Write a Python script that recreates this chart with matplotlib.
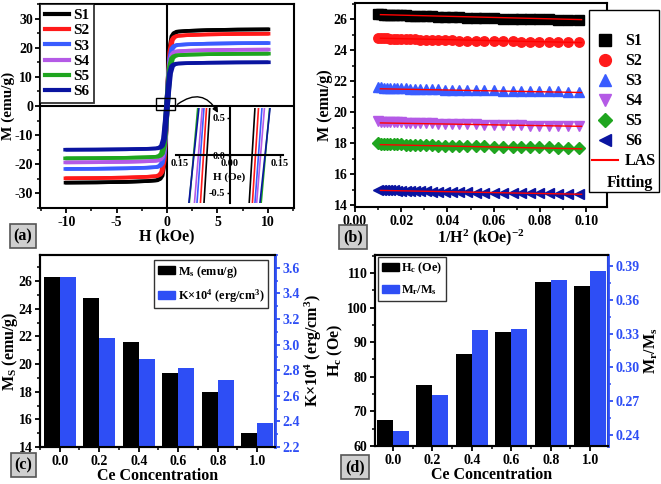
import numpy as np
import matplotlib.pyplot as plt
from matplotlib.ticker import AutoMinorLocator, FormatStrFormatter
from matplotlib.patches import Rectangle, FancyArrowPatch, Patch
from matplotlib.lines import Line2D

plt.rcParams['font.family'] = 'Liberation Serif'
plt.rcParams['font.weight'] = 'bold'
plt.rcParams['axes.labelweight'] = 'bold'
plt.rcParams['axes.unicode_minus'] = False
plt.rcParams['mathtext.fontset'] = 'custom'
plt.rcParams['mathtext.rm'] = 'Liberation Serif:bold'
plt.rcParams['mathtext.it'] = 'Liberation Serif:bold:italic'
plt.rcParams['mathtext.bf'] = 'Liberation Serif:bold'

# ---- data ----
samples = ['S1', 'S2', 'S3', 'S4', 'S5', 'S6']
loop_colors = ['#000000', '#ff1a1a', '#3a5cff', '#b45ae6', '#1fa51f', '#0a14a0']
bar_blue = '#2e4ef5'

ce = [0.0, 0.2, 0.4, 0.6, 0.8, 1.0]
ms = [26.3, 24.8, 21.6, 19.35, 17.95, 15.0]          # emu/g
k_aniso = [3.53, 3.05, 2.89, 2.815, 2.72, 2.385]     # x10^4 erg/cm3
hc = [67.6, 77.7, 86.7, 93.0, 107.5, 106.3]          # Oe
mr_ms = [0.243, 0.275, 0.333, 0.334, 0.378, 0.386]

# loop branch shape: M/Ms against distance from the coercive field (kOe)
u_branch = [0, 0.05, 0.1, 0.2, 0.3, 0.5, 0.7, 1.0, 2.0, 4.0, 7.0, 10.0]
m_branch = [0, 0.14, 0.28, 0.52, 0.75, 0.91, 0.95, 0.97, 0.98, 0.99, 0.997, 1.0]

# law of approach to saturation, M vs 1/H^2
x_las = [0.0100, 0.0112, 0.0125, 0.0138, 0.0152, 0.0167, 0.0183, 0.0200,
         0.0219, 0.0239, 0.0260, 0.0283, 0.0307, 0.0333, 0.0360, 0.0389,
         0.0420, 0.0452, 0.0486, 0.0522, 0.0560, 0.0600, 0.0641, 0.0683,
         0.0719, 0.0758, 0.0798, 0.0839, 0.0877, 0.0921, 0.0971]
m_s1 = [26.32, 26.31, 26.30, 26.30, 26.29, 26.28, 26.27, 26.26, 26.25, 26.23,
        26.22, 26.21, 26.19, 26.18, 26.16, 26.15, 26.13, 26.12, 26.10, 26.09,
        26.07, 26.06, 26.05, 26.04, 26.02, 26.01, 26.00, 25.99, 25.98, 25.97, 25.96]
m_s2 = [24.80, 24.79, 24.78, 24.77, 24.76, 24.75, 24.74, 24.73, 24.72, 24.71,
        24.70, 24.69, 24.68, 24.67, 24.66, 24.65, 24.64, 24.63, 24.62, 24.61,
        24.60, 24.59, 24.58, 24.57, 24.56, 24.56, 24.55, 24.54, 24.53, 24.53, 24.52]
m_s3 = [21.62, 21.61, 21.60, 21.59, 21.58, 21.57, 21.56, 21.55, 21.54, 21.53,
        21.52, 21.51, 21.50, 21.49, 21.48, 21.47, 21.46, 21.45, 21.44, 21.43,
        21.42, 21.41, 21.40, 21.39, 21.38, 21.37, 21.36, 21.35, 21.35, 21.34, 21.33]
m_s4 = [19.42, 19.41, 19.40, 19.39, 19.38, 19.37, 19.36, 19.35, 19.34, 19.33,
        19.32, 19.31, 19.30, 19.29, 19.28, 19.27, 19.26, 19.24, 19.23, 19.22,
        19.21, 19.19, 19.18, 19.17, 19.16, 19.15, 19.14, 19.13, 19.12, 19.11, 19.10]
m_s5 = [18.00, 17.99, 17.98, 17.97, 17.96, 17.95, 17.94, 17.93, 17.92, 17.91,
        17.90, 17.89, 17.88, 17.87, 17.86, 17.85, 17.84, 17.83, 17.82, 17.81,
        17.80, 17.79, 17.78, 17.77, 17.76, 17.76, 17.75, 17.74, 17.73, 17.73, 17.72]
m_s6 = [15.02, 15.01, 15.00, 14.99, 14.98, 14.97, 14.96, 14.95, 14.94, 14.93,
        14.92, 14.91, 14.90, 14.89, 14.88, 14.87, 14.86, 14.85, 14.84, 14.83,
        14.82, 14.81, 14.80, 14.80, 14.79, 14.79, 14.78, 14.78, 14.77, 14.77, 14.76]
las_series = [m_s1, m_s2, m_s3, m_s4, m_s5, m_s6]
las_markers = ['s', 'o', '^', 'v', 'D', '<']
fit_x = [0.011, 0.098]
fit_y = [(26.30, 25.98), (24.78, 24.50), (21.52, 21.28),
         (19.32, 19.10), (17.92, 17.65), (14.97, 14.72)]

W, H = 661, 484


def box(l, t, r, b):
    # pixel box (from top-left) -> figure fraction rect
    return [l / W, 1 - b / H, (r - l) / W, (b - t) / H]


def style_axis(ax):
    for sp in ax.spines.values():
        sp.set_linewidth(1.5)
    ax.tick_params(direction='out', length=3.5, width=1.3, labelsize=10, pad=2)
    ax.tick_params(which='minor', direction='out', length=2, width=1.1)
    ax.xaxis.set_minor_locator(AutoMinorLocator(2))
    ax.yaxis.set_minor_locator(AutoMinorLocator(2))


fig = plt.figure(figsize=(6.61, 4.84), dpi=100)

# ---------------- (a) hysteresis loops ----------------
ax_a = fig.add_axes(box(40, 4, 294, 208))
u = np.array(u_branch)
m = np.array(m_branch)
u_full = np.concatenate([-u[::-1], u[1:]])
m_full = np.concatenate([-m[::-1], m[1:]])
ax_a.axhline(0, color='k', lw=1.5, zorder=1)
ax_a.axvline(0, color='k', lw=1.5, zorder=1)
for name, c, s, h in zip(samples, loop_colors, ms, hc):
    hk = h / 1000.0
    ax_a.plot(u_full + hk, s * m_full, color=c, lw=2.6, label=name, zorder=2)
    ax_a.plot(u_full - hk, s * m_full, color=c, lw=2.6, zorder=2)
ax_a.set_xlim(-12.6, 12.6)
ax_a.set_ylim(-35, 35)
ax_a.set_xticks([-10, -5, 0, 5, 10])
ax_a.set_yticks([-30, -20, -10, 0, 10, 20, 30])
style_axis(ax_a)
ax_a.tick_params(axis='y', pad=1.5)
ax_a.set_xlabel('H (kOe)', fontsize=11.5, labelpad=0)
ax_a.set_ylabel('M (emu/g)', fontsize=11, labelpad=-0.5)
leg = ax_a.legend(loc='upper left', bbox_to_anchor=(0, 1), borderaxespad=0,
                  fancybox=False, edgecolor='k', fontsize=11, handlelength=1.6,
                  handletextpad=0.25, labelspacing=0.1, borderpad=0.3)
leg.get_frame().set_linewidth(1.3)
for ln in leg.get_lines():
    ln.set_linewidth(3)
ax_a.add_patch(Rectangle((-1.05, -1.5), 1.8, 4.1, fill=False, ec='k', lw=1, zorder=4))
ax_a.add_patch(FancyArrowPatch((0.82, 0.0), (5.2, -3.2), connectionstyle='arc3,rad=-0.6',
                               arrowstyle='-|>', mutation_scale=8, lw=1, color='k', zorder=4))

# inset: zoom around origin
ax_in = fig.add_axes(box(176, 108, 283, 203))
ax_in.patch.set_alpha(0)
for c, s, h in zip(loop_colors, ms, hc):
    hk = h / 1000.0
    ax_in.plot(u_full + hk, s * m_full, color=c, lw=1.2)
    ax_in.plot(u_full - hk, s * m_full, color=c, lw=1.2)
ax_in.set_xlim(-0.16, 0.16)
ax_in.set_ylim(-0.64, 0.627)
ax_in.spines['left'].set_position('zero')
ax_in.spines['bottom'].set_position('zero')
ax_in.spines['top'].set_visible(False)
ax_in.spines['right'].set_visible(False)
for sp in ('left', 'bottom'):
    ax_in.spines[sp].set_linewidth(1.5)
ax_in.set_xticks([-0.15, 0, 0.15])
ax_in.set_xticklabels(['0.15', '0.00', '0.15'])
ax_in.set_yticks([-0.5, 0, 0.5])
ax_in.set_yticklabels(['-0.5', '0.0', '0.5'])
ax_in.tick_params(labelsize=7.5, length=2, width=1, pad=1)
ax_in.text(0.5, 0.24, 'H (Oe)', transform=ax_in.transAxes, ha='center', fontsize=8)

# ---------------- (b) law of approach ----------------
ax_b = fig.add_axes(box(355, 3, 607, 207))
handles = []
for name, c, mk, y in zip(samples, loop_colors, las_markers, las_series):
    msz = 6 if mk == 'D' else 6.8
    hdl, = ax_b.plot(x_las, y, ls='none', marker=mk, ms=msz, color=c, mec=c, label=name, zorder=2)
    handles.append(hdl)
for fy in fit_y:
    ax_b.plot(fit_x, fy, color='#ff0000', lw=1, zorder=3)
ax_b.set_xlim(0, 0.109)
ax_b.set_ylim(13.9, 27.05)
ax_b.set_xticks([0.0, 0.02, 0.04, 0.06, 0.08, 0.10])
ax_b.xaxis.set_major_formatter(FormatStrFormatter('%.2f'))
ax_b.set_yticks([14, 16, 18, 20, 22, 24, 26])
style_axis(ax_b)
ax_b.set_xlabel('1/H$^2$ (kOe)$^{-2}$', fontsize=11.5, labelpad=0)
ax_b.set_ylabel('M (emu/g)', fontsize=11.5, labelpad=0)
las_line = Line2D([], [], color='#ff0000', lw=1.5)
blank = Line2D([], [], color='none')
leg_b = ax_b.legend([blank] + handles + [las_line, blank], [' '] + samples + ['LAS', ' '],
                    loc='upper left', bbox_to_anchor=(589 / W, 1 - 10 / H),
                    bbox_transform=fig.transFigure, borderaxespad=0, fancybox=False,
                    edgecolor='k', fontsize=11.5, handlelength=1.6, handletextpad=0.45,
                    labelspacing=0.25, borderpad=0.2, markerscale=1.25, framealpha=1)
leg_b.get_frame().set_linewidth(1)
leg_b.set_zorder(10)
fig.text(607 / W, 1 - 183 / H, 'Fitting', fontsize=11.5, va='center', ha='left', zorder=11)

# ---------------- (c) Ms and K ----------------
xc = np.array(ce)
ax_c = fig.add_axes(box(40, 255, 275, 447))
ax_c2 = ax_c.twinx()
ax_c.bar(xc - 0.04, ms, width=0.08, color='k')
ax_c2.bar(xc + 0.04, k_aniso, width=0.08, color=bar_blue)
ax_c.set_xlim(-0.1, 1.09)
ax_c.set_ylim(14, 27.9)
ax_c2.set_ylim(2.2, 3.7)
ax_c.set_xticks(ce)
ax_c.xaxis.set_major_formatter(FormatStrFormatter('%.1f'))
ax_c.set_yticks([14, 16, 18, 20, 22, 24, 26])
ax_c2.set_yticks([2.2, 2.4, 2.6, 2.8, 3.0, 3.2, 3.4, 3.6])
ax_c2.yaxis.set_major_formatter(FormatStrFormatter('%.1f'))
style_axis(ax_c)
style_axis(ax_c2)
ax_c2.spines['right'].set_color(bar_blue)
ax_c2.spines['right'].set_linewidth(2)
ax_c2.tick_params(axis='y', which='both', colors=bar_blue)
ax_c.set_xlabel('Ce Concentration', fontsize=11.5, labelpad=0)
ax_c.set_ylabel('M$_\\mathrm{S}$ (emu/g)', fontsize=11.5, labelpad=-1)
ax_c2.set_ylabel('K\u00d710$^4$ (erg/cm$^3$)', fontsize=11.5, labelpad=2)
leg_c = ax_c2.legend([Patch(color='k'), Patch(color=bar_blue)],
                     ['M$_\\mathrm{s}$ (emu/g)', 'K\u00d710$^4$ (erg/cm$^3$)'],
                     loc='upper right', bbox_to_anchor=(268 / W, 1 - 260 / H),
                     bbox_transform=fig.transFigure, borderaxespad=0, fancybox=False,
                     edgecolor='k', fontsize=8.8, handlelength=1.4, handleheight=0.6,
                     handletextpad=0.2, labelspacing=0.6, borderpad=0.3)
leg_c.get_frame().set_linewidth(1)

# ---------------- (d) Hc and Mr/Ms ----------------
ax_d = fig.add_axes(box(375, 255, 608, 446))
ax_d2 = ax_d.twinx()
ax_d.bar(xc - 0.04, hc, width=0.08, color='k')
ax_d2.bar(xc + 0.04, mr_ms, width=0.08, color=bar_blue)
ax_d.set_xlim(-0.09, 1.09)
ax_d.set_ylim(60, 115.2)
ax_d2.set_ylim(0.23, 0.40)
ax_d.set_xticks(ce)
ax_d.xaxis.set_major_formatter(FormatStrFormatter('%.1f'))
ax_d.set_yticks([60, 70, 80, 90, 100, 110])
ax_d2.set_yticks([0.24, 0.27, 0.30, 0.33, 0.36, 0.39])
ax_d2.yaxis.set_major_formatter(FormatStrFormatter('%.2f'))
style_axis(ax_d)
style_axis(ax_d2)
ax_d2.spines['right'].set_color(bar_blue)
ax_d2.spines['right'].set_linewidth(2)
ax_d2.tick_params(axis='y', which='both', colors=bar_blue)
ax_d.set_xlabel('Ce Concentration', fontsize=11.5, labelpad=0)
ax_d.set_ylabel('H$_\\mathrm{c}$ (Oe)', fontsize=11.5, labelpad=1)
ax_d2.set_ylabel('M$_\\mathrm{r}$/M$_\\mathrm{s}$', fontsize=11.5, labelpad=2)
leg_d = ax_d2.legend([Patch(color='k'), Patch(color=bar_blue)],
                     ['H$_\\mathrm{c}$ (Oe)', 'M$_\\mathrm{r}$/M$_\\mathrm{s}$'],
                     loc='upper left', bbox_to_anchor=(378 / W, 1 - 257 / H),
                     bbox_transform=fig.transFigure, borderaxespad=0, fancybox=False,
                     edgecolor='k', fontsize=8.8, handlelength=1.4, handleheight=0.6,
                     handletextpad=0.2, labelspacing=0.6, borderpad=0.3)
leg_d.get_frame().set_linewidth(1)

# panel tags
tag_box = dict(boxstyle='square,pad=0.25', fc='#cfcfcf', ec='#555555', lw=1.2)
for tag, px, py in [('(a)', 23, 236), ('(b)', 353, 237), ('(c)', 23.5, 465), ('(d)', 355, 467)]:
    fig.text(px / W, 1 - py / H, tag, fontsize=11.5, ha='center', va='center', bbox=tag_box)

fig.savefig('out.png', dpi=100)
